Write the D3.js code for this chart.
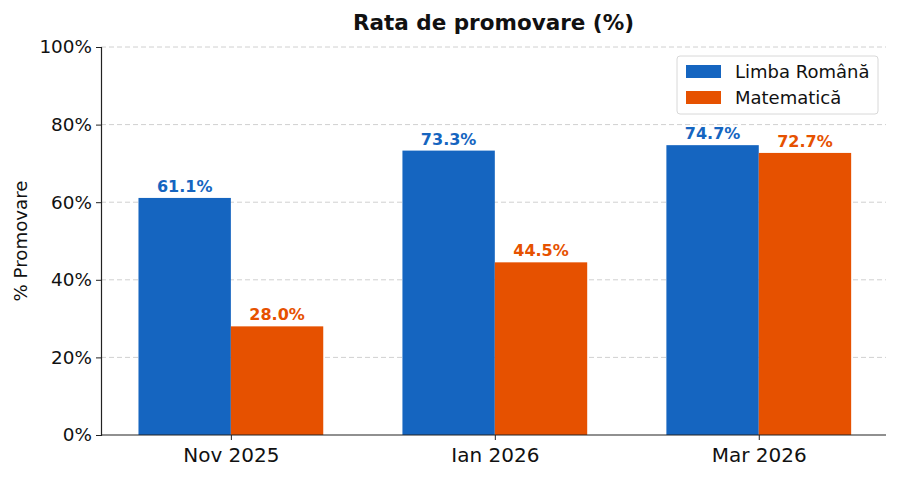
<!DOCTYPE html>
<html>
<head>
<meta charset="utf-8">
<script src="https://cdn.jsdelivr.net/npm/d3@7"></script>
<style>
  body { margin: 0; background: #fff; }
  text { font-family: "DejaVu Sans", sans-serif; }
</style>
</head>
<body>
<div id="chart"></div>
<script>
// chart data
var categories = ["Nov 2025", "Ian 2026", "Mar 2026"];
var seriesNames = ["Limba Română", "Matematică"];
var romana = [61.1, 73.3, 74.7];
var matematica = [28.0, 44.5, 72.7];
var yTicks = [0, 20, 40, 60, 80, 100];
var colors = ["#1565C0", "#E65100"];

var svgWidth = 900;
var svgHeight = 481;
var margin = { top: 47, right: 14, bottom: 46, left: 101 };
var width = svgWidth - margin.left - margin.right;
var height = svgHeight - margin.top - margin.bottom;

var svg = d3.select("#chart").append("svg")
  .attr("width", svgWidth)
  .attr("height", svgHeight);

var chartGroup = svg.append("g")
  .attr("transform", `translate(${margin.left}, ${margin.top})`);

// x is index based, like matplotlib's bar offsets
var x = d3.scaleLinear().domain([-0.492, 2.482]).range([0, width]);
var y = d3.scaleLinear().domain([0, 100]).range([height, 0]);
var barW = 0.35;

// grid lines
chartGroup.selectAll("line.grid")
  .data(yTicks.slice(1))
  .enter()
  .append("line")
  .attr("x1", 0)
  .attr("x2", width)
  .attr("y1", d => y(d))
  .attr("y2", d => y(d))
  .attr("stroke", "#d0d0d0")
  .attr("stroke-width", 1)
  .attr("stroke-dasharray", "5,3");

var series = [romana, matematica];
series.forEach(function(vals, s) {
  var off = s === 0 ? -barW : 0;
  chartGroup.selectAll("rect.s" + s)
    .data(vals)
    .enter()
    .append("rect")
    .attr("x", (d, i) => x(i + off))
    .attr("width", x(barW) - x(0))
    .attr("y", d => y(d))
    .attr("height", d => height - y(d))
    .attr("fill", colors[s]);

  chartGroup.selectAll("text.s" + s)
    .data(vals)
    .enter()
    .append("text")
    .attr("x", (d, i) => x(i + off + barW / 2))
    .attr("y", d => y(d) - 6)
    .attr("text-anchor", "middle")
    .attr("fill", colors[s])
    .style("font-size", "16px")
    .style("font-weight", "bold")
    .text(d => d.toFixed(1) + "%");
});

// axes
var leftAxis = d3.axisLeft(y).tickValues(yTicks).tickFormat(d => d + "%").tickSize(5).tickPadding(4);
var yAxis = chartGroup.append("g").call(leftAxis);
yAxis.select(".domain").attr("stroke", "#222").attr("stroke-width", 1.2);
yAxis.selectAll(".tick line").attr("stroke", "#222");
yAxis.selectAll("text").style("font-size", "18.4px").attr("fill", "#111");

var bottomAxis = d3.axisBottom(x).tickValues([0, 1, 2]).tickFormat(i => categories[i]).tickSize(5).tickPadding(8);
var xAxis = chartGroup.append("g")
  .attr("transform", `translate(0, ${height})`)
  .call(bottomAxis);
xAxis.select(".domain").attr("stroke", "#222").attr("stroke-width", 1.2).attr("d", `M0,0H${width}`);
xAxis.selectAll(".tick line").attr("stroke", "#222");
xAxis.selectAll("text").style("font-size", "20px").attr("fill", "#111");

// title
svg.append("text")
  .attr("x", margin.left + width / 2)
  .attr("y", 30)
  .attr("text-anchor", "middle")
  .style("font-size", "21.5px")
  .style("font-weight", "bold")
  .attr("fill", "#111")
  .text("Rata de promovare (%)");

// y label
svg.append("text")
  .attr("transform", "rotate(-90)")
  .attr("x", -(margin.top + height / 2))
  .attr("y", 27)
  .attr("text-anchor", "middle")
  .style("font-size", "18.2px")
  .attr("fill", "#111")
  .text("% Promovare");

// legend
var legend = svg.append("g").attr("transform", "translate(677, 56)");
legend.append("rect")
  .attr("width", 201)
  .attr("height", 58)
  .attr("rx", 3)
  .attr("fill", "#fff")
  .attr("stroke", "#d8d8d8");
seriesNames.forEach(function(name, i) {
  legend.append("rect")
    .attr("x", 9)
    .attr("y", 9 + i * 26)
    .attr("width", 35)
    .attr("height", 13)
    .attr("fill", colors[i]);
  legend.append("text")
    .attr("x", 58)
    .attr("y", 22 + i * 26)
    .style("font-size", "18px")
    .attr("fill", "#111")
    .text(name);
});
</script>
</body>
</html>
